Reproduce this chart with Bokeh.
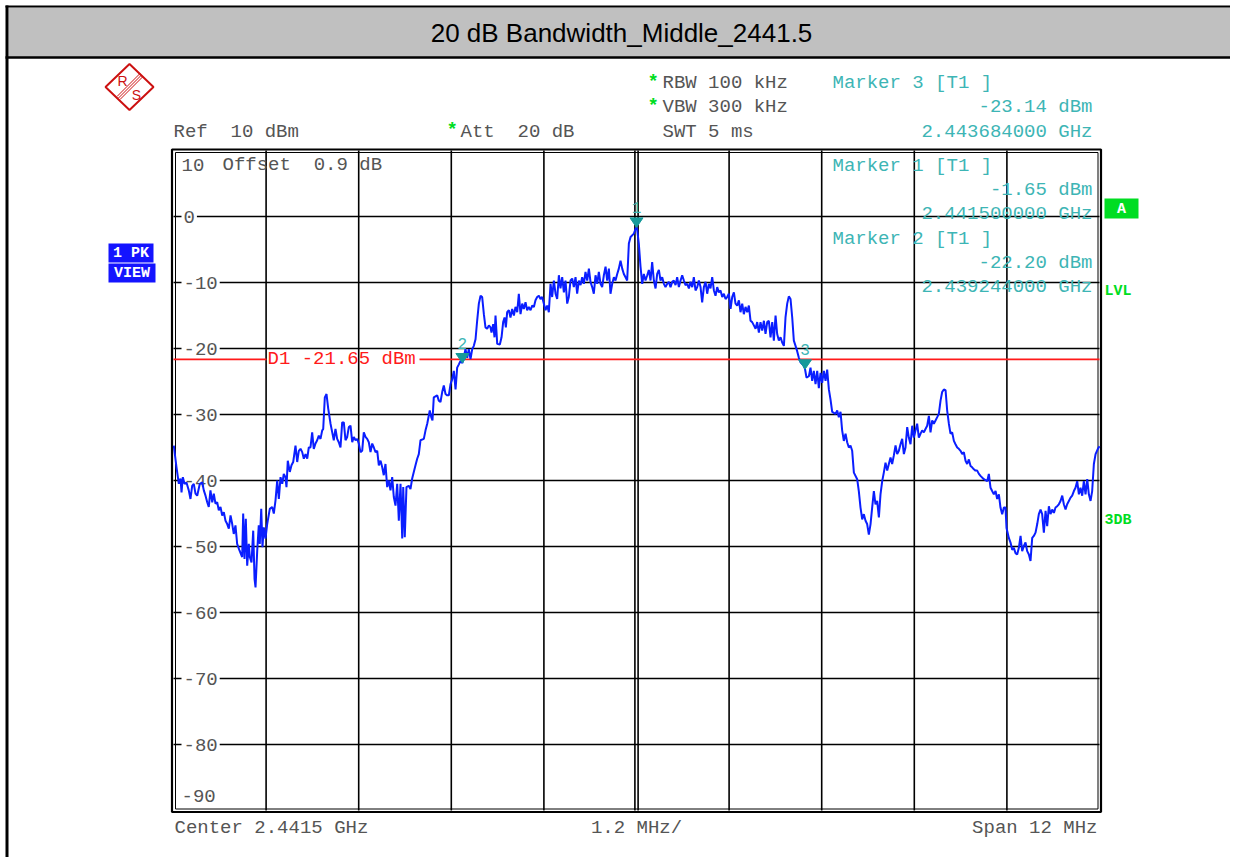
from bokeh.plotting import figure
from bokeh.models import Range1d, Label
from bokeh.embed import file_html
from bokeh.resources import INLINE

# ---------------- data ----------------
TITLE = "20 dB Bandwidth_Middle_2441.5"
CENTER_MHZ = 2441.5
SPAN_MHZ = 12.0
REF_DBM = 10.0
DB_PER_DIV = 10.0
N_DIV = 10
OFFSET_DB = 0.9
RBW_KHZ = 100
VBW_KHZ = 300
ATT_DB = 20
SWT_MS = 5

FREQ_A = [
    2435.504, 2435.539, 2435.569, 2435.591, 2435.604, 2435.621, 2435.643, 2435.668, 2435.698, 2435.720,
    2435.742, 2435.763, 2435.785, 2435.807, 2435.841, 2435.872, 2435.893, 2435.915, 2435.937, 2435.957,
    2435.979, 2436.002, 2436.022, 2436.044, 2436.066, 2436.087, 2436.109, 2436.131, 2436.152, 2436.174,
    2436.196, 2436.217, 2436.239, 2436.261, 2436.281, 2436.303, 2436.325, 2436.355, 2436.390, 2436.403,
    2436.420, 2436.437, 2436.455, 2436.476, 2436.489, 2436.511, 2436.533, 2436.550, 2436.563, 2436.585,
    2436.605, 2436.618, 2436.637, 2436.653, 2436.670, 2436.692, 2436.714, 2436.748, 2436.779, 2436.800,
    2436.822, 2436.844, 2436.865, 2436.887, 2436.909, 2436.929, 2436.951, 2436.964, 2436.981, 2437.007,
    2437.029, 2437.051, 2437.081, 2437.103, 2437.124, 2437.146, 2437.168, 2437.189, 2437.211, 2437.233,
    2437.253, 2437.275, 2437.297, 2437.318, 2437.340, 2437.362, 2437.383, 2437.405, 2437.427, 2437.440,
    2437.461, 2437.483, 2437.505, 2437.535, 2437.557, 2437.577, 2437.599, 2437.621, 2437.642, 2437.664,
    2437.686, 2437.707, 2437.729, 2437.751, 2437.772, 2437.794, 2437.816, 2437.837, 2437.859, 2437.881,
    2437.901, 2437.923, 2437.945, 2437.966, 2437.988, 2438.010, 2438.031, 2438.053, 2438.075, 2438.096,
    2438.118, 2438.140, 2438.161, 2438.183, 2438.205, 2438.225, 2438.247, 2438.269, 2438.290, 2438.312,
    2438.334, 2438.355, 2438.377, 2438.399, 2438.420, 2438.442, 2438.464, 2438.477, 2438.497, 2438.519,
    2438.549, 2438.571, 2438.593, 2438.614, 2438.636, 2438.658, 2438.679, 2438.701, 2438.744, 2438.766,
    2438.788, 2438.821, 2438.840, 2438.856, 2438.873, 2438.917, 2438.938, 2438.960, 2438.982, 2439.003,
    2439.025, 2439.047, 2439.068, 2439.090]
LEVEL_A = [
    -34.7, -38.0, -40.5, -39.7, -41.8, -39.5, -40.5, -40.3, -41.5, -42.8,
    -40.8, -40.5, -42.0, -42.3, -40.5, -40.3, -41.5, -42.3, -43.3, -44.0,
    -41.5, -43.3, -42.0, -43.5, -43.3, -44.5, -44.0, -45.3, -44.8, -46.1,
    -46.6, -47.3, -45.3, -46.6, -48.1, -46.8, -49.6, -50.6, -51.6, -45.0,
    -51.9, -45.8, -52.9, -49.6, -51.6, -52.4, -47.6, -54.9, -56.2, -50.6,
    -46.8, -49.6, -44.3, -50.1, -47.1, -48.8, -46.6, -44.3, -44.0, -45.0,
    -43.0, -40.0, -42.8, -39.5, -40.5, -39.0, -39.5, -41.0, -37.0, -38.7,
    -37.7, -37.2, -34.7, -37.2, -35.5, -35.2, -35.7, -36.7, -36.0, -36.7,
    -35.0, -35.0, -32.7, -35.2, -34.4, -33.9, -33.2, -33.7, -32.4, -32.2,
    -27.4, -26.9, -29.1, -31.4, -32.7, -33.9, -32.2, -33.7, -34.2, -35.0,
    -31.2, -31.2, -33.9, -33.4, -31.9, -31.7, -34.2, -33.4, -33.9, -33.7,
    -34.4, -35.7, -35.5, -32.7, -33.4, -33.7, -34.2, -35.7, -34.4, -35.0,
    -35.7, -35.5, -37.7, -37.0, -38.0, -39.2, -37.5, -41.0, -40.0, -41.5,
    -39.5, -42.5, -43.8, -40.5, -46.1, -40.5, -48.8, -41.0, -48.6, -41.0,
    -40.8, -41.3, -39.7, -38.7, -37.7, -36.7, -36.0, -33.9, -33.7, -32.4,
    -31.4, -29.4, -30.4, -30.9, -27.4, -27.1, -27.9, -28.1, -26.6, -25.6,
    -26.9, -27.1, -27.1, -25.4]

FREQ_B = [
    2439.111, 2439.133, 2439.155, 2439.176, 2439.198, 2439.219, 2439.244, 2439.284, 2439.306, 2439.327,
    2439.349, 2439.371, 2439.392, 2439.414, 2439.435, 2439.457, 2439.479, 2439.500, 2439.522, 2439.543,
    2439.565, 2439.587, 2439.608, 2439.621, 2439.643, 2439.660, 2439.673, 2439.695, 2439.729, 2439.751,
    2439.772, 2439.790, 2439.807, 2439.824, 2439.846, 2439.867, 2439.889, 2439.911, 2439.932, 2439.954,
    2439.975, 2439.997, 2440.019, 2440.040, 2440.062, 2440.083, 2440.105, 2440.127, 2440.148, 2440.170,
    2440.191, 2440.213, 2440.235, 2440.256, 2440.278, 2440.299, 2440.321, 2440.343, 2440.364, 2440.386,
    2440.407, 2440.429, 2440.451, 2440.472, 2440.494, 2440.515, 2440.537, 2440.559, 2440.580, 2440.602,
    2440.623, 2440.645, 2440.667, 2440.688, 2440.710, 2440.731, 2440.753, 2440.775, 2440.796, 2440.818,
    2440.839, 2440.861, 2440.883, 2440.904, 2440.926, 2440.947, 2440.969, 2440.991, 2441.012, 2441.034,
    2441.055, 2441.077, 2441.099, 2441.120, 2441.142, 2441.163, 2441.185, 2441.207, 2441.228, 2441.250,
    2441.271, 2441.293, 2441.315, 2441.336, 2441.358, 2441.379, 2441.401, 2441.423, 2441.466, 2441.487,
    2441.500, 2441.509, 2441.530, 2441.552, 2441.574, 2441.595, 2441.617, 2441.639, 2441.660, 2441.682,
    2441.703, 2441.725, 2441.747, 2441.768, 2441.790, 2441.811, 2441.833, 2441.855, 2441.876, 2441.898,
    2441.919, 2441.941, 2441.963, 2441.984, 2442.006, 2442.027, 2442.049, 2442.071, 2442.092, 2442.114,
    2442.135, 2442.157, 2442.179, 2442.200, 2442.222, 2442.243, 2442.265, 2442.287, 2442.308, 2442.330,
    2442.351, 2442.373, 2442.395, 2442.416, 2442.438, 2442.459, 2442.481, 2442.503, 2442.524, 2442.546,
    2442.567, 2442.589, 2442.611, 2442.632, 2442.654, 2442.675, 2442.697, 2442.719, 2442.740, 2442.762,
    2442.783, 2442.805, 2442.827, 2442.848, 2442.870, 2442.891, 2442.913, 2442.935, 2442.956, 2442.978,
    2442.999, 2443.021, 2443.043, 2443.064, 2443.086, 2443.107, 2443.129, 2443.151, 2443.172, 2443.194,
    2443.215, 2443.237, 2443.259, 2443.280, 2443.302, 2443.323, 2443.345, 2443.367, 2443.388, 2443.410,
    2443.431, 2443.453, 2443.474, 2443.496, 2443.518, 2443.539, 2443.561, 2443.582, 2443.604, 2443.626,
    2443.669, 2443.684, 2443.703, 2443.734, 2443.755, 2443.777, 2443.798, 2443.820, 2443.842, 2443.863,
    2443.885, 2443.906, 2443.928, 2443.950, 2443.971, 2443.993, 2444.014]
LEVEL_B = [
    -24.7, -23.4, -26.2, -22.9, -22.4, -21.9, -22.2, -20.1, -21.4, -20.1,
    -21.6, -20.1, -19.6, -18.6, -15.8, -13.2, -12.0, -12.2, -14.8, -16.8,
    -17.0, -16.5, -16.8, -17.6, -16.3, -18.3, -15.0, -19.3, -19.4, -18.3,
    -16.0, -15.3, -16.8, -14.5, -14.2, -15.3, -14.0, -15.0, -13.7, -14.5,
    -11.7, -14.8, -13.2, -14.0, -13.0, -14.2, -13.7, -14.2, -13.5, -13.7,
    -12.7, -12.2, -12.0, -12.5, -12.2, -13.2, -14.2, -13.5, -14.5, -10.2,
    -12.2, -9.7, -11.7, -12.5, -8.9, -10.9, -9.2, -11.5, -9.7, -13.2,
    -12.2, -9.7, -9.4, -10.7, -9.2, -11.7, -9.7, -10.4, -9.2, -10.2,
    -8.4, -9.7, -7.9, -9.9, -10.7, -11.7, -8.9, -10.2, -8.4, -10.2,
    -10.7, -8.9, -7.6, -9.7, -7.9, -11.7, -10.2, -9.2, -9.7, -8.7,
    -7.9, -6.7, -7.9, -8.7, -9.2, -9.7, -4.1, -3.1, -2.6, -1.9,
    -1.65, -2.0, -4.1, -7.6, -10.2, -8.7, -9.7, -8.9, -8.1, -9.7,
    -6.9, -9.7, -10.9, -8.7, -8.1, -9.7, -9.2, -10.2, -10.7, -10.2,
    -9.9, -10.7, -9.9, -9.7, -10.4, -9.2, -10.7, -9.7, -8.9, -9.7,
    -10.4, -10.2, -10.9, -9.9, -10.7, -9.2, -11.2, -10.7, -9.7, -10.7,
    -13.0, -10.7, -9.9, -11.7, -10.2, -10.9, -9.2, -11.2, -12.0, -10.7,
    -11.5, -11.2, -12.2, -11.7, -12.5, -12.2, -11.7, -14.0, -12.2, -11.5,
    -13.2, -13.5, -12.7, -14.5, -13.2, -14.8, -13.7, -14.5, -13.5, -15.8,
    -16.0, -16.5, -17.0, -16.0, -17.6, -16.0, -17.3, -15.8, -17.8, -16.0,
    -15.8, -18.3, -16.0, -18.8, -15.0, -17.8, -18.8, -18.3, -19.1, -19.6,
    -15.3, -13.2, -12.1, -12.5, -15.3, -18.8, -19.6, -20.4, -21.4, -22.1,
    -22.6, -23.14, -24.4, -24.2, -22.9, -24.9, -23.4, -25.4, -23.4, -26.0,
    -23.7, -25.2, -23.4, -24.9, -23.2, -26.2, -27.7]

FREQ_C = [
    2444.036, 2444.079, 2444.101, 2444.122, 2444.144, 2444.165, 2444.187, 2444.209, 2444.230, 2444.252,
    2444.273, 2444.295, 2444.317, 2444.360, 2444.381, 2444.403, 2444.425, 2444.446, 2444.468, 2444.489,
    2444.511, 2444.533, 2444.554, 2444.576, 2444.597, 2444.619, 2444.641, 2444.662, 2444.684, 2444.705,
    2444.727, 2444.749, 2444.770, 2444.792, 2444.813, 2444.835, 2444.857, 2444.878, 2444.900, 2444.921,
    2444.943, 2444.965, 2444.986, 2445.008, 2445.029, 2445.051, 2445.073, 2445.094, 2445.116, 2445.137,
    2445.159, 2445.181, 2445.202, 2445.224, 2445.245, 2445.267, 2445.289, 2445.310, 2445.332, 2445.353,
    2445.375, 2445.397, 2445.418, 2445.440, 2445.461, 2445.483, 2445.505, 2445.526, 2445.548, 2445.569,
    2445.591, 2445.613, 2445.634, 2445.656, 2445.677, 2445.699, 2445.721, 2445.742, 2445.764, 2445.785,
    2445.807, 2445.829, 2445.850, 2445.872, 2445.893, 2445.915, 2445.937, 2445.958, 2446.001, 2446.045,
    2446.066, 2446.088, 2446.109, 2446.131, 2446.153, 2446.174, 2446.196, 2446.217, 2446.239, 2446.261,
    2446.282, 2446.295, 2446.325, 2446.347, 2446.369, 2446.390, 2446.412, 2446.433, 2446.455, 2446.477,
    2446.498, 2446.520, 2446.541, 2446.563, 2446.585, 2446.606, 2446.628, 2446.649, 2446.671, 2446.693,
    2446.714, 2446.736, 2446.757, 2446.779, 2446.801, 2446.822, 2446.844, 2446.865, 2446.887, 2446.909,
    2446.930, 2446.952, 2446.973, 2446.995, 2447.017, 2447.038, 2447.060, 2447.081, 2447.103, 2447.125,
    2447.146, 2447.168, 2447.189, 2447.211, 2447.233, 2447.254, 2447.276, 2447.297, 2447.319, 2447.341,
    2447.362, 2447.384, 2447.405, 2447.427, 2447.449, 2447.479, 2447.500]
LEVEL_C = [
    -29.6, -29.9, -29.4, -30.4, -29.6, -32.4, -34.0, -32.9, -34.2, -35.0,
    -34.7, -35.5, -38.8, -39.8, -41.6, -44.1, -45.9, -45.1, -46.1, -46.6,
    -48.2, -46.6, -44.1, -41.6, -43.6, -43.1, -45.6, -42.1, -40.1, -38.8,
    -37.3, -38.5, -37.5, -36.5, -37.5, -36.2, -34.7, -36.0, -35.5, -34.5,
    -33.7, -36.0, -35.0, -31.9, -33.5, -34.5, -31.7, -33.5, -32.4, -31.4,
    -33.5, -32.9, -32.4, -32.7, -32.2, -31.7, -30.2, -32.7, -30.9, -31.4,
    -30.9, -30.4, -29.9, -27.9, -26.6, -26.2, -26.3, -29.4, -31.4, -32.9,
    -32.7, -34.0, -34.5, -35.0, -35.2, -35.5, -36.0, -35.7, -37.0, -37.5,
    -36.8, -37.8, -38.0, -38.3, -38.5, -38.5, -39.0, -39.3, -39.8, -40.1,
    -39.0, -41.1, -41.6, -42.1, -41.6, -42.8, -42.1, -44.1, -45.1, -44.1,
    -44.1, -47.2, -48.7, -49.4, -50.5, -50.2, -51.0, -51.2, -50.2, -48.4,
    -50.7, -49.9, -49.4, -50.7, -51.2, -52.2, -48.7, -48.4, -47.9, -46.6,
    -45.1, -44.4, -45.1, -47.9, -44.6, -46.9, -43.9, -45.1, -44.4, -44.9,
    -44.1, -43.9, -43.6, -43.1, -42.3, -43.6, -44.4, -43.6, -43.1, -42.6,
    -42.3, -41.6, -41.1, -40.1, -42.1, -41.1, -42.3, -40.1, -42.1, -39.8,
    -42.1, -43.1, -41.6, -37.5, -36.0, -35.2, -34.8]

MARKER_ID = ["1", "2", "3"]
MARKER_FREQ_MHZ = [2441.500, 2439.244, 2443.684]
MARKER_LEVEL_DBM = [-1.65, -22.20, -23.14]
D1_DBM = -21.65

assert len(FREQ_A) == len(LEVEL_A), (len(FREQ_A), len(LEVEL_A))
assert len(FREQ_B) == len(LEVEL_B), (len(FREQ_B), len(LEVEL_B))
assert len(FREQ_C) == len(LEVEL_C), (len(FREQ_C), len(LEVEL_C))
FREQ_MHZ = FREQ_A + FREQ_B + FREQ_C
LEVEL_DBM = LEVEL_A + LEVEL_B + LEVEL_C

# ---------------- layout (picture pixels) ----------------
W, H = 1230, 857
PX0, PY0 = 0, 0
GL, GR, GT, GB = 173, 1099, 150, 810

F_START = CENTER_MHZ - SPAN_MHZ / 2
F_STOP = CENTER_MHZ + SPAN_MHZ / 2
DB_TOP = REF_DBM
DB_BOT = REF_DBM - N_DIV * DB_PER_DIV
PX_PER_MHZ = (GR - GL) / SPAN_MHZ
PX_PER_DB = (GB - GT) / (DB_TOP - DB_BOT)


def px_to_mhz(px):
    return F_START + (px - GL) / PX_PER_MHZ


f_lo = px_to_mhz(PX0)
f_hi = px_to_mhz(PX0 + W)
db_hi = DB_TOP + (GT - PY0) / PX_PER_DB
db_lo = DB_BOT - (PY0 + H - GB) / PX_PER_DB

MONO = "Liberation Mono"
SANS = "Liberation Sans"
GRAY = "#555555"
TEAL = "#3db5b5"
TEAL_DARK = "#169a9a"
GREEN = "#00dd22"
BLUE = "#1414ff"
RED = "#ff1a1a"
TRACE = "#0a1eff"
FS = "19px"
NB = "\u00a0"

p = figure(width=W, height=H, x_range=Range1d(PX0, PX0 + W), y_range=Range1d(PY0 + H, PY0),
           output_backend="svg", toolbar_location=None, min_border=0,
           x_axis_location=None, y_axis_location=None)
p.outline_line_color = None
p.background_fill_color = "white"
p.border_fill_color = "white"
p.xgrid.visible = False
p.ygrid.visible = False
p.extra_x_ranges = {"f": Range1d(f_lo, f_hi)}
p.extra_y_ranges = {"db": Range1d(db_lo, db_hi)}
D = dict(x_range_name="f", y_range_name="db")


def txt(x, y, s, color=GRAY, size=FS, align="left", style="normal", font=MONO, **kw):
    p.add_layout(Label(x=x, y=y, text=s, text_color=color, text_font_size=size,
                       text_align=align, text_baseline="middle", text_font=font,
                       text_font_style=style, **kw))


# ---- page frame and title bar ----
p.quad(left=8, right=PX0 + W, top=7, bottom=56.5, fill_color="#c0c0c0", line_color=None)
p.segment(x0=[5, 5, 6.5], y0=[6, 57, 5], x1=[PX0 + W, PX0 + W, 6.5], y1=[6, 57, PY0 + H],
          line_color="black", line_width=[2, 2.5, 3])
txt(621, 32, TITLE, color="black", size="26px", align="center", font=SANS)

# ---- R&S logo ----
p.patch(x=[129, 153, 129, 105], y=[63.5, 86.5, 109.5, 86.5], fill_color=None,
        line_color="#cc1111", line_width=2)
p.segment(x0=[116.5, 118, 119.5], y0=[96, 97.5, 99], x1=[139.5, 141, 142.5], y1=[73, 74.5, 76],
          line_color="#cc1111", line_width=1)
txt(122, 80, "R", color="#cc1111", size="14px", align="center", font=SANS)
txt(136, 94, "S", color="#cc1111", size="14px", align="center", font=SANS)

# ---- header texts ----
txt(173, 131, f"Ref{NB} {REF_DBM:.0f} dBm")
txt(446, 129, "*", color=GREEN, style="bold")
txt(460, 131, f"Att{NB} {ATT_DB} dB")
txt(647, 81, "*", color=GREEN, style="bold")
txt(662, 82.5, f"RBW {RBW_KHZ} kHz")
txt(647, 105, "*", color=GREEN, style="bold")
txt(662, 106, f"VBW {VBW_KHZ} kHz")
txt(662, 131, f"SWT {SWT_MS} ms")

# ---- grid ----
vx = [F_START + i * SPAN_MHZ / N_DIV for i in range(1, N_DIV)]
hy = [DB_TOP - j * DB_PER_DIV for j in range(1, N_DIV)]
dx = 1.6 / PX_PER_MHZ
vx2 = [v for v in vx if abs(v - CENTER_MHZ) > 1e-6] + [CENTER_MHZ - dx, CENTER_MHZ + dx]
p.segment(x0=vx2, y0=[DB_BOT] * len(vx2), x1=vx2, y1=[DB_TOP] * len(vx2),
          line_color="black", line_width=1.6, level="underlay", **D)
p.segment(x0=[F_START] * len(hy), y0=hy, x1=[F_STOP] * len(hy), y1=hy,
          line_color="black", line_width=1.6, level="underlay", **D)
p.quad(left=GL - 1.5, right=GR + 1.5, top=GT - 1, bottom=GB + 1.5, fill_color=None,
       line_color="black", line_width=2.2)
p.quad(left=GL + 2, right=GR - 1.5, top=GT + 2, bottom=GB - 1.5, fill_color=None,
       line_color="black", line_width=1)

# y tick labels
for lv in hy:
    p.add_layout(Label(x=181, y=lv, text=f"{lv:.0f}", text_color=GRAY, text_font_size=FS,
                       text_font=MONO, text_baseline="middle", background_fill_color="white",
                       padding=2, level="underlay", y_range_name="db"))
txt(181, DB_TOP, f"{DB_TOP:.0f}", y_offset=-14, y_range_name="db")
txt(181, DB_BOT, f"{DB_BOT:.0f}", y_offset=15, y_range_name="db")
txt(222, DB_TOP, f"Offset{NB} {OFFSET_DB} dB", y_offset=-14, y_range_name="db")

# display line D1 (broken where its label sits)
d1_txt_l, d1_txt_r = px_to_mhz(266), px_to_mhz(419)
p.segment(x0=[F_START, d1_txt_r], y0=[D1_DBM, D1_DBM], x1=[d1_txt_l, F_STOP], y1=[D1_DBM, D1_DBM],
          line_color=RED, line_width=1.6, **D)
txt(267, D1_DBM, f"D1 {D1_DBM:.2f} dBm", color=RED, y_range_name="db")

# ---- trace ----
p.line(FREQ_MHZ, LEVEL_DBM, line_color=TRACE, line_width=2, **D)

# ---- markers ----
hw = 6.5 / PX_PER_MHZ
th = 9.5 / PX_PER_DB
p.patches(xs=[[f - hw, f + hw, f] for f in MARKER_FREQ_MHZ],
          ys=[[l + th, l + th, l] for l in MARKER_LEVEL_DBM],
          fill_color=TEAL_DARK, line_color=TEAL_DARK, **D)
for mid, f, l in zip(MARKER_ID, MARKER_FREQ_MHZ, MARKER_LEVEL_DBM):
    p.add_layout(Label(x=f, y=l, text=mid, text_color=TEAL, text_font_size="16px",
                       text_font=MONO, text_align="center", text_baseline="middle",
                       y_offset=20, x_range_name="f", y_range_name="db"))

# marker info block: marker 3 above the grid, markers 1 and 2 inside
info_rows = {"3": (82.5, 106, 131), "1": (165.5, 189, 213.5), "2": (238, 262, 286)}
for mid, f, l in zip(MARKER_ID, MARKER_FREQ_MHZ, MARKER_LEVEL_DBM):
    y1, y2, y3 = info_rows[mid]
    txt(832, y1, f"Marker {mid} [T1 ]", color=TEAL)
    txt(1092, y2, f"{l:.2f} dBm", color=TEAL, align="right")
    txt(1092, y3, f"{f / 1000:.9f} GHz", color=TEAL, align="right")

# ---- side badges ----
p.quad(left=108, right=153, top=243, bottom=262, fill_color=BLUE, line_color=None)
p.quad(left=108, right=155, top=263, bottom=282, fill_color=BLUE, line_color=None)
txt(130.5, 253, "1 PK", color="white", size="15px", align="center", style="bold")
txt(131.5, 273, "VIEW", color="white", size="15px", align="center", style="bold")
p.quad(left=1104, right=1138, top=198, bottom=218, fill_color=GREEN, line_color=None)
txt(1121, 208.5, "A", color="white", size="15px", align="center", style="bold")
txt(1104, 291, "LVL", color=GREEN, size="15px", style="bold")
txt(1104, 519.5, "3DB", color=GREEN, size="15px", style="bold")

# ---- footer ----
txt(174, 827.5, f"Center {CENTER_MHZ / 1000:.4f} GHz")
txt(636, 827.5, f"{SPAN_MHZ / N_DIV:.1f} MHz/", align="center")
txt(1097, 827.5, f"Span {SPAN_MHZ:.0f} MHz", align="right")

open("out.html", "w").write(file_html(p, INLINE))
